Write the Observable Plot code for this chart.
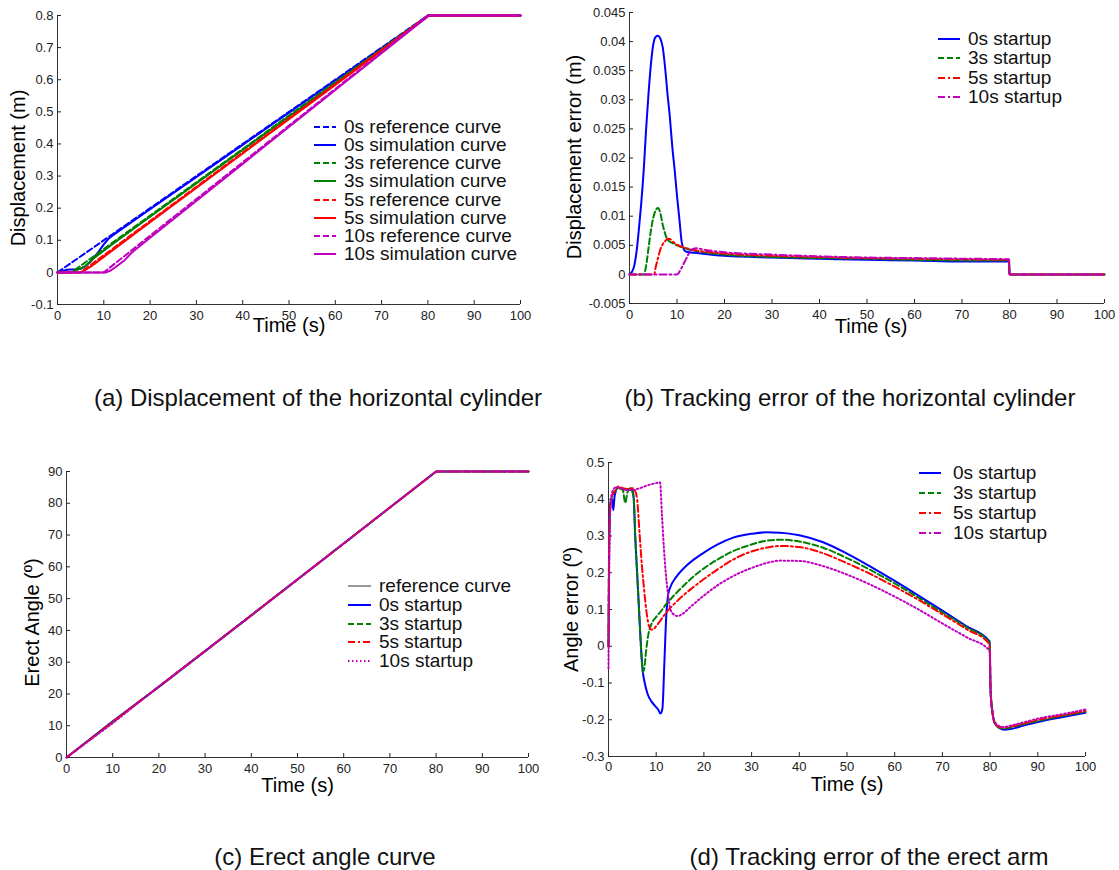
<!DOCTYPE html>
<html><head><meta charset="utf-8">
<script src="https://cdn.jsdelivr.net/npm/d3@7"></script>
<script src="https://cdn.jsdelivr.net/npm/@observablehq/plot@0.6"></script>
<style>
body{margin:0;background:#fff;}
#root{position:relative;width:1119px;height:870px;background:#fff;font-family:"Liberation Sans",Arial,sans-serif;overflow:hidden;}
.panel{position:absolute;}
.cap{position:absolute;font-size:24px;color:#111;white-space:nowrap;transform:translate(-50%,-50%);}
.legrow{position:absolute;display:flex;align-items:center;height:18px;line-height:18px;font-size:19px;color:#111;white-space:nowrap;}
.legrow svg{display:block;}
</style></head><body><div id="root"></div>
<script>
// ---------- shared axis ticks ----------
const xTicks = [0,10,20,30,40,50,60,70,80,90,100];
const yTicksA = [-0.1,0,0.1,0.2,0.3,0.4,0.5,0.6,0.7,0.8];
const yTicksB = [-0.005,0,0.005,0.01,0.015,0.02,0.025,0.03,0.035,0.04,0.045];
const yTicksC = [0,10,20,30,40,50,60,70,80,90];
const yTicksD = [-0.3,-0.2,-0.1,0,0.1,0.2,0.3,0.4,0.5];

// ---------- (a) displacement of the horizontal cylinder (m) ----------
const refT0 = [0,80,100],      ref0 = [0,0.8,0.8];
const refT3 = [0,3,80,100],    ref3 = [0,0,0.8,0.8];
const refT5 = [0,5,80,100],    ref5 = [0,0,0.8,0.8];
const refT10 = [0,10,80,100],  ref10 = [0,0,0.8,0.8];
const simT0 = [0,1,2,3,4,5,6,7,8,9,10,11,12,20,40,60,79.9,80,100];
const sim0  = [0,0.004,0.008,0.009,0.009,0.011,0.019,0.0315,0.048,0.067,0.087,0.1045,0.116,0.1967,0.3973,0.5976,0.7968,0.8,0.8];
const simT3 = [0,3,4,5,6,7,8,9,10,12,20,40,60,79.9,80,100];
const sim3  = [0,0,0.007,0.0123,0.0198,0.033,0.046,0.0568,0.0677,0.089,0.1731,0.3816,0.5896,0.7966,0.8,0.8];
const simT5 = [0,5,6,7,8,9,10,12,20,40,60,79.9,80,100];
const sim5  = [0,0,0.0082,0.0163,0.026,0.0369,0.0483,0.0702,0.1564,0.3703,0.584,0.7964,0.8,0.8];
const simT10 = [0,10.5,11.5,12.5,13.5,14.5,16,20,40,60,79.9,80,100];
const sim10  = [0,0,0.006,0.0160,0.0270,0.0380,0.0610,0.1080,0.3380,0.5680,0.7963,0.8,0.8];

// ---------- (b) displacement tracking error (m) ----------
const errT0 = [0,0.5,1,1.5,2,2.5,3,3.5,4,4.5,5,5.5,6,6.5,7,7.5,8,8.5,9,9.5,10,10.5,11,11.5,12,15,20,30,40,50,60,70,79.9,80,100];
const err0  = [0,0.0004,0.0015,0.004,0.008,0.0125,0.018,0.025,0.031,0.036,0.0395,0.0408,0.041,0.0405,0.039,0.0355,0.031,0.027,0.022,0.018,0.0135,0.0095,0.0055,0.0042,0.0039,0.0036,0.0032,0.0029,0.0027,0.0025,0.0024,0.0022,0.0022,0,0];
const errT3 = [0,3,3.5,4,4.5,5,5.5,6,6.5,7,7.5,8,9,10,12,15,20,30,40,50,60,70,79.9,80,100];
const err3  = [0,0,0.0015,0.0045,0.0075,0.0097,0.011,0.0114,0.0105,0.0085,0.007,0.006,0.0054,0.005,0.0044,0.0039,0.0034,0.003,0.0028,0.0027,0.0025,0.0024,0.0024,0,0];
const errT5 = [0,5.2,5.5,6,6.5,7,7.5,8,8.5,9,10,12,15,20,30,40,50,60,70,79.9,80,100];
const err5  = [0,0,0.0012,0.0028,0.0043,0.0052,0.0057,0.0061,0.0061,0.0057,0.0051,0.0045,0.004,0.0036,0.0032,0.003,0.0028,0.0027,0.0026,0.0025,0,0];
const errT10 = [0,10,11,12,13,14,16,20,30,40,50,60,70,79.9,80,100];
const err10  = [0,0,0.0012,0.0028,0.0042,0.0045,0.0042,0.0038,0.0034,0.0031,0.0029,0.0028,0.0027,0.0026,0,0];

// ---------- (c) erect angle (deg) ----------
const angT   = [0,10,20,30,40,50,60,70,80,100];
const angRef = [0,11.25,22.5,33.75,45,56.25,67.5,78.75,90,90];
const ang0   = [0,11.42,22.24,33.44,44.70,56.00,67.32,78.65,89.99,90];
const ang3   = [0,11.17,22.29,33.47,44.72,56.01,67.33,78.66,89.99,90];
const ang5   = [0,11.20,22.32,33.49,44.73,56.02,67.34,78.66,90.0,90];
const ang10  = [0,10.81,22.36,33.54,44.77,56.06,67.36,78.69,90.0,90];

// ---------- (d) angle tracking error (deg) ----------
const aeT0 = [0,0.15,0.4,0.8,1.0,1.3,2,3,4,5,5.3,5.6,6,6.4,6.8,7.2,7.6,8.2,9,9.8,10.4,10.9,11.3,11.7,12.1,12.5,13,14,16,18,20,23,26,30,33,36,40,45,50,55,60,65,70,75,79.9,80.1,80.5,81,82,83,84,87,90,95,100];
const ae0  = [0,0.3,0.39,0.40,0.37,0.41,0.432,0.428,0.427,0.427,0.40,0.30,0.20,0.10,0.0,-0.07,-0.10,-0.13,-0.15,-0.163,-0.172,-0.183,-0.17,-0.05,0.08,0.14,0.162,0.185,0.215,0.237,0.255,0.278,0.295,0.306,0.31,0.309,0.302,0.283,0.252,0.216,0.178,0.138,0.097,0.055,0.013,-0.12,-0.18,-0.21,-0.223,-0.227,-0.226,-0.216,-0.206,-0.193,-0.181];
const aeT3 = [0,0.15,0.4,0.8,1.3,2,3,3.5,4,4.6,5,5.3,5.6,6,6.4,6.8,7.2,7.5,7.9,8.4,9,10,11,12,13,14,16,18,20,23,26,30,33,36,40,45,50,55,60,65,70,75,79.9,80.1,80.5,81,82,83,84,87,90,95,100];
const ae3  = [0,0.3,0.39,0.41,0.42,0.43,0.425,0.39,0.42,0.43,0.42,0.40,0.30,0.20,0.10,0.0,-0.07,-0.06,-0.01,0.035,0.06,0.08,0.095,0.113,0.128,0.142,0.168,0.192,0.212,0.237,0.258,0.277,0.287,0.29,0.285,0.268,0.24,0.207,0.171,0.132,0.092,0.052,0.010,-0.12,-0.18,-0.21,-0.222,-0.224,-0.222,-0.212,-0.203,-0.19,-0.178];
const aeT5 = [0,0.15,0.4,0.8,1.5,2,3,4,5,5.5,6,6.5,7,7.5,8,8.5,9,9.5,10,11,12,13,14,16,18,20,23,26,30,33,36,40,45,50,55,60,65,70,75,79.9,80.1,80.5,81,82,83,84,87,90,95,100];
const ae5  = [0,0.3,0.38,0.41,0.425,0.435,0.43,0.428,0.43,0.425,0.40,0.31,0.22,0.15,0.09,0.055,0.045,0.047,0.055,0.072,0.09,0.105,0.118,0.142,0.163,0.183,0.21,0.235,0.258,0.268,0.273,0.27,0.253,0.226,0.196,0.162,0.126,0.087,0.047,0.005,-0.12,-0.18,-0.21,-0.22,-0.221,-0.219,-0.21,-0.2,-0.188,-0.176];
const aeT10 = [0,0.15,0.4,0.8,1.5,2.5,4,5,6,7,8,9,10,10.8,11.2,11.6,12,12.4,12.8,13.4,14.5,15.5,17,20,23,26,30,33,36,40,45,50,55,60,65,70,75,79.9,80.1,80.5,81,82,83,84,87,90,95,100];
const ae10  = [-0.06,0.2,0.38,0.42,0.432,0.43,0.425,0.425,0.428,0.432,0.437,0.441,0.444,0.446,0.36,0.27,0.2,0.15,0.11,0.09,0.082,0.088,0.105,0.138,0.167,0.19,0.213,0.226,0.233,0.232,0.218,0.195,0.167,0.135,0.1,0.062,0.025,-0.012,-0.12,-0.18,-0.205,-0.218,-0.22,-0.217,-0.207,-0.197,-0.185,-0.172];

// ---------- styles ----------
const BLUE = "#0000ff", GREEN = "#008000", RED = "#ff0000", MAG = "#bf00bf";
const DASH = "6,3", DASHDOT = "7,3,2,3", DOT = "1.5,2.5";

const root = document.getElementById("root");
const zip = (t, v) => t.map((x, i) => ({t: x, v: v[i]}));
const fmt = d => String(Math.round(d * 1000) / 1000);

function makePanel(c) {
  const marks = [
    Plot.ruleY([c.yDomain[0]], {stroke: "#333", strokeWidth: 1}),
    Plot.ruleX([0], {stroke: "#333", strokeWidth: 1}),
    Plot.axisX({ticks: xTicks, tickSize: -4, tickPadding: c.xPad, tickFormat: d => String(d), fontSize: 13, label: null, color: "#222"}),
    Plot.axisY({ticks: c.yTicks, tickSize: -4, tickPadding: 8, tickFormat: fmt, fontSize: 13, label: null, color: "#222"})
  ];
  for (const s of c.series) {
    marks.push(Plot.line(zip(s.t, s.v), {x: "t", y: "v", stroke: s.color, strokeWidth: s.w ?? 2,
      strokeDasharray: s.dash, curve: c.curve}));
  }
  marks.push(Plot.text(["Time (s)"], {text: d => d, frameAnchor: "bottom", textAnchor: "middle", lineAnchor: "middle",
    dx: c.xLabDx ?? 0, dy: c.xLabDy, fontSize: 20, fill: "#000"}));
  marks.push(Plot.text([c.yLabel], {text: d => d, frameAnchor: "left", textAnchor: "middle", lineAnchor: "middle",
    dx: c.yLabDx, dy: c.yLabDy, rotate: -90, fontSize: 20, fill: "#000"}));
  const svg = Plot.plot({
    width: c.w, height: c.h,
    marginLeft: c.ml, marginRight: c.mr, marginTop: c.mt, marginBottom: c.mb,
    x: {domain: [0, 100]}, y: {domain: c.yDomain},
    style: {fontFamily: "'Liberation Sans', Arial, sans-serif", fontSize: "13px", background: "transparent", overflow: "visible"},
    marks
  });
  svg.classList.add("panel");
  svg.style.left = c.left + "px"; svg.style.top = c.top + "px";
  root.appendChild(svg);
}

function legend(items, L) {
  items.forEach((it, i) => {
    const row = document.createElement("div");
    row.className = "legrow";
    row.style.left = L.left + "px";
    row.style.top = (L.top + i * L.step - 9) + "px";
    const sw = L.sw;
    row.innerHTML = `<svg width="${sw}" height="18"><line x1="0" x2="${sw}" y1="9" y2="9" stroke="${it.color}" stroke-width="${it.w ?? 2}" ${it.dash ? `stroke-dasharray="${it.dash}"` : ""}/></svg><span style="margin-left:${L.gap}px">${it.label}</span>`;
    root.appendChild(row);
  });
}

function caption(text, x, y) {
  const d = document.createElement("div");
  d.className = "cap"; d.textContent = text;
  d.style.left = x + "px"; d.style.top = y + "px";
  root.appendChild(d);
}

// (a)
makePanel({left: 0, top: 0, w: 560, h: 345, ml: 57, mr: 40, mt: 15, mb: 41,
  yDomain: [-0.1, 0.8], yTicks: yTicksA, yLabel: "Displacement (m)", xPad: 10,
  xLabDy: 21, yLabDx: -39, yLabDy: 8, curve: "linear",
  series: [
    {t: refT0, v: ref0, color: BLUE, dash: DASH}, {t: simT0, v: sim0, color: BLUE},
    {t: refT3, v: ref3, color: GREEN, dash: DASH}, {t: simT3, v: sim3, color: GREEN},
    {t: refT5, v: ref5, color: RED, dash: DASH}, {t: simT5, v: sim5, color: RED},
    {t: refT10, v: ref10, color: MAG, dash: DASH}, {t: simT10, v: sim10, color: MAG}
  ]});
legend([
  {label: "0s reference curve", color: BLUE, dash: DASH}, {label: "0s simulation curve", color: BLUE},
  {label: "3s reference curve", color: GREEN, dash: DASH}, {label: "3s simulation curve", color: GREEN},
  {label: "5s reference curve", color: RED, dash: DASH}, {label: "5s simulation curve", color: RED},
  {label: "10s reference curve", color: MAG, dash: DASH}, {label: "10s simulation curve", color: MAG}
], {left: 314, top: 127, step: 18.15, sw: 22, gap: 8});

// (b)
makePanel({left: 560, top: 0, w: 559, h: 345, ml: 69, mr: 15, mt: 12, mb: 42,
  yDomain: [-0.005, 0.045], yTicks: yTicksB, yLabel: "Displacement error (m)", xPad: 10,
  xLabDy: 23, xLabDx: 4, yLabDx: -55, yLabDy: -1, curve: "monotone-x",
  series: [
    {t: errT0, v: err0, color: BLUE}, {t: errT3, v: err3, color: GREEN, dash: DASH},
    {t: errT5, v: err5, color: RED, dash: DASHDOT}, {t: errT10, v: err10, color: MAG, dash: DASHDOT}
  ]});
legend([
  {label: "0s startup", color: BLUE}, {label: "3s startup", color: GREEN, dash: DASH},
  {label: "5s startup", color: RED, dash: DASHDOT}, {label: "10s startup", color: MAG, dash: DASHDOT}
], {left: 938, top: 39, step: 19.3, sw: 22, gap: 8});

// (c)
makePanel({left: 0, top: 440, w: 560, h: 360, ml: 66, mr: 32, mt: 31, mb: 43,
  yDomain: [0, 90], yTicks: yTicksC, yLabel: "Erect Angle (º)", xPad: 10,
  xLabDy: 28, yLabDx: -34, yLabDy: 8, curve: "linear",
  series: [
    {t: angT, v: angRef, color: "#333", w: 1},
    {t: angT, v: ang0, color: BLUE}, {t: angT, v: ang3, color: GREEN, dash: DASH},
    {t: angT, v: ang5, color: RED, dash: DASHDOT}, {t: angT, v: ang10, color: MAG, dash: DOT}
  ]});
legend([
  {label: "reference curve", color: "#333", w: 1}, {label: "0s startup", color: BLUE},
  {label: "3s startup", color: GREEN, dash: DASH}, {label: "5s startup", color: RED, dash: DASHDOT},
  {label: "10s startup", color: MAG, dash: DOT}
], {left: 348, top: 586, step: 18.75, sw: 23, gap: 8});

// (d)
makePanel({left: 560, top: 440, w: 559, h: 360, ml: 48, mr: 34, mt: 22, mb: 44,
  yDomain: [-0.3, 0.5], yTicks: yTicksD, yLabel: "Angle error (º)", xPad: 9,
  xLabDy: 28, yLabDx: -37, yLabDy: 0, curve: "monotone-x",
  series: [
    {t: aeT0, v: ae0, color: BLUE}, {t: aeT3, v: ae3, color: GREEN, dash: DASH},
    {t: aeT5, v: ae5, color: RED, dash: DASHDOT}, {t: aeT10, v: ae10, color: MAG, dash: DOT}
  ]});
legend([
  {label: "0s startup", color: BLUE}, {label: "3s startup", color: GREEN, dash: DASH},
  {label: "5s startup", color: RED, dash: DASHDOT}, {label: "10s startup", color: MAG, dash: DASHDOT}
], {left: 919, top: 473, step: 20, sw: 22, gap: 12});

caption("(a) Displacement of the horizontal cylinder", 318, 398);
caption("(b) Tracking error of the horizontal cylinder", 850, 398);
caption("(c) Erect angle curve", 325, 857);
caption("(d) Tracking error of the erect arm", 869, 857);
</script></body></html>
